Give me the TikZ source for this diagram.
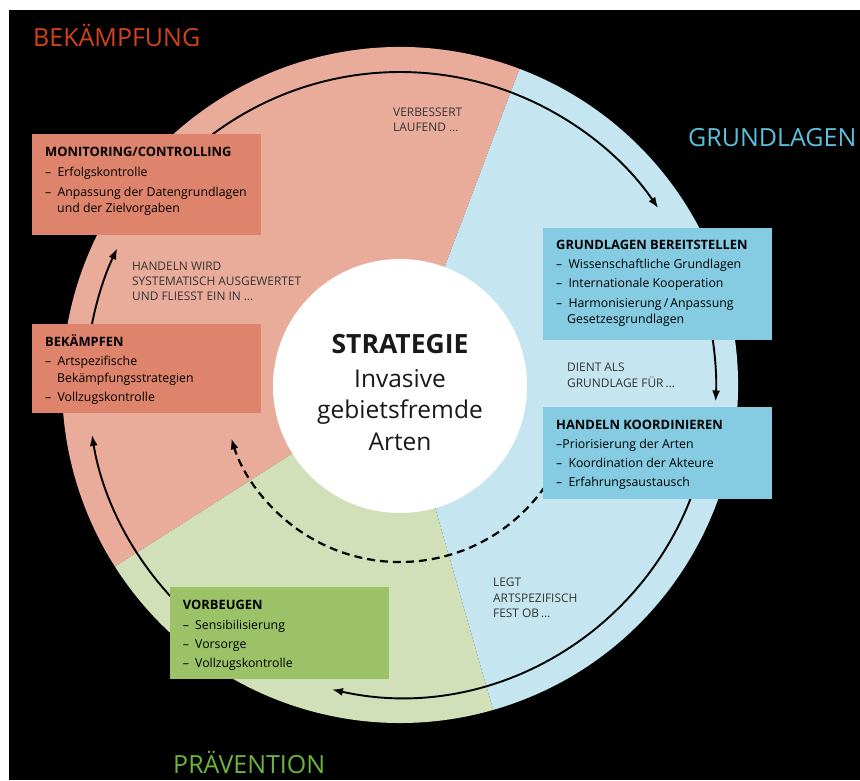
\documentclass[tikz,border=0pt]{standalone}
\usepackage{fontspec}
\setmainfont{Open Sans}
\usetikzlibrary{arrows.meta,calc}
\definecolor{pinkbg}{HTML}{E9AC9B}
\definecolor{bluebg}{HTML}{C5E6F0}
\definecolor{greenbg}{HTML}{D1E0B8}
\definecolor{boxred}{HTML}{DE836C}
\definecolor{boxblue}{HTML}{85CCE2}
\definecolor{boxgreen}{HTML}{9BC267}
\definecolor{titlered}{HTML}{D2421B}
\definecolor{titleblue}{HTML}{5DBFDD}
\definecolor{titlegreen}{HTML}{6CB43F}
\definecolor{labgray}{HTML}{333333}
\newcommand{\itm}{–\enspace}
\begin{document}
\begin{tikzpicture}[x=1pt,y=1pt,
  arr/.style={line width=1.9pt, -{Latex[length=11pt,width=8pt]}},
  dasharr/.style={line width=2.2pt, dash pattern=on 8pt off 5pt, -{Latex[length=11pt,width=8pt]}},
  panel/.style={draw=none, anchor=north west, inner sep=0pt},
  bt/.style={anchor=base west, inner sep=0pt, font=\fontsize{12.3}{14}\selectfont, text=black},
  btt/.style={bt, font=\fontsize{12.9}{14}\selectfont\bfseries},
  lab/.style={anchor=base west, inner sep=0pt, font=\fontsize{11.9}{13}\selectfont, text=labgray},
  bigtitle/.style={anchor=base west, inner sep=0pt, font=\fontsize{25}{28}\selectfont},
  core/.style={anchor=base, inner sep=0pt, font=\fontsize{24.5}{28}\selectfont, text=black!90},
]
\useasboundingbox (0,0) rectangle (860,-780);
\fill[white] (0,0) rectangle (860,-780);
\fill[black] (9,-10) rectangle (860,-780);
\coordinate (C) at (400,-385);
% sectors
\fill[pinkbg] (C) -- ($(C)+(69.3:338)$) arc[start angle=69.3, end angle=212.5, radius=338] -- cycle;
\fill[greenbg] (C) -- ($(C)+(212.5:338)$) arc[start angle=212.5, end angle=286, radius=338] -- cycle;
\fill[bluebg] (C) -- ($(C)+(286:338)$) arc[start angle=286, end angle=429.3, radius=338] -- cycle;
\node[circle, fill=white, minimum size=254pt, inner sep=0pt] (corecircle) at (400,-386) {};
% connectors
\coordinate (a1) at ($(C)+(128:313)$);
\draw[arr] (a1) arc[start angle=128, end angle=34.4, radius=313];
\coordinate (a2) at ($(C)+(10:316)$);
\draw[arr] (a2) arc[start angle=10, end angle=-3, radius=316];
\coordinate (a3) at ($(C)+(-18:312)$);
\draw[arr] (a3) arc[start angle=-18, end angle=-102.6, radius=312];
\coordinate (a4) at ($(C)+(224:312)$);
\draw[arr] (a4) arc[start angle=224, end angle=189.2, radius=312];
\coordinate (a5) at ($(C)+(171:314)$);
\draw[arr] (a5) arc[start angle=171, end angle=154.2, radius=314];
\coordinate (a6) at ($(C)+(-35:177)$);
\draw[dasharr] (a6) arc[start angle=-35, end angle=-162.5, radius=177];
% boxes
\node[panel, fill=boxred, minimum width=229pt, minimum height=101pt] (mon) at (32,-134) {};
\node[panel, fill=boxred, minimum width=229pt, minimum height=89pt] (bek) at (32,-324) {};
\node[panel, fill=boxblue, minimum width=229pt, minimum height=112pt] (grl) at (543,-228) {};
\node[panel, fill=boxblue, minimum width=229pt, minimum height=92pt] (hk) at (543,-407) {};
\node[panel, fill=boxgreen, minimum width=219pt, minimum height=92pt] (vor) at (170,-587) {};
% box texts
\node[btt] (mon1) at (45,-156.5) {MONITORING/CONTROLLING};
\node[bt] (mon2) at (45,-176.5) {\itm Erfolgskontrolle};
\node[bt] (mon3) at (45,-196) {\itm Anpassung der Datengrundlagen};
\node[bt] (mon4) at (57,-212.5) {und der Zielvorgaben};
\node[btt] (bek1) at (45,-346) {BEKÄMPFEN};
\node[bt] (bek2) at (45,-365.3) {\itm Artspezifische};
\node[bt] (bek3) at (57,-382) {Bekämpfungsstrategien};
\node[bt] (bek4) at (45,-401.3) {\itm Vollzugskontrolle};
\node[btt] (grl1) at (556,-249.3) {GRUNDLAGEN BEREITSTELLEN};
\node[bt] (grl2) at (556,-268.3) {\itm Wissenschaftliche Grundlagen};
\node[bt] (grl3) at (556,-287.7) {\itm Internationale Kooperation};
\node[bt] (grl4) at (556,-307.3) {\itm Harmonisierung\,/\,Anpassung};
\node[bt] (grl5) at (567,-323.3) {Gesetzesgrundlagen};
\node[btt] (hk1) at (556,-429) {HANDELN KOORDINIEREN};
\node[bt] (hk2) at (556,-448.3) {–Priorisierung der Arten};
\node[bt] (hk3) at (556,-467.3) {\itm Koordination der Akteure};
\node[bt] (hk4) at (556,-486.7) {\itm Erfahrungsaustausch};
\node[btt] (vor1) at (182.7,-609.3) {VORBEUGEN};
\node[bt] (vor2) at (182.7,-629) {\itm Sensibilisierung};
\node[bt] (vor3) at (182.7,-648.3) {\itm Vorsorge};
\node[bt] (vor4) at (182.7,-667) {\itm Vollzugskontrolle};
% labels
\node[lab] (l1a) at (393,-116) {VERBESSERT};
\node[lab] (l1b) at (393,-131) {LAUFEND …};
\node[lab] (l2a) at (132,-270) {HANDELN WIRD};
\node[lab] (l2b) at (132,-285) {SYSTEMATISCH AUSGEWERTET};
\node[lab] (l2c) at (132,-300) {UND FLIESST EIN IN …};
\node[lab] (l3a) at (567,-371.7) {DIENT ALS};
\node[lab] (l3b) at (567,-387) {GRUNDLAGE FÜR\,…};
\node[lab] (l4a) at (493,-586.7) {LEGT};
\node[lab] (l4b) at (493,-602) {ARTSPEZIFISCH};
\node[lab] (l4c) at (493,-617.7) {FEST OB\,…};
% titles
\node[bigtitle, text=titlered] (t1) at (33,-46.7) {BEKÄMPFUNG};
\node[bigtitle, text=titleblue] (t2) at (688,-146.5) {GRUNDLAGEN};
\node[bigtitle, text=titlegreen] (t3) at (173,-773) {PRÄVENTION};
% center
\node[core, font=\fontsize{26.5}{28}\selectfont\bfseries] (c1) at (400,-353) {STRATEGIE};
\node[core] (c2) at (400,-387) {Invasive};
\node[core] (c3) at (400,-418) {gebietsfremde};
\node[core] (c4) at (400,-450) {Arten};
\end{tikzpicture}
\end{document}
